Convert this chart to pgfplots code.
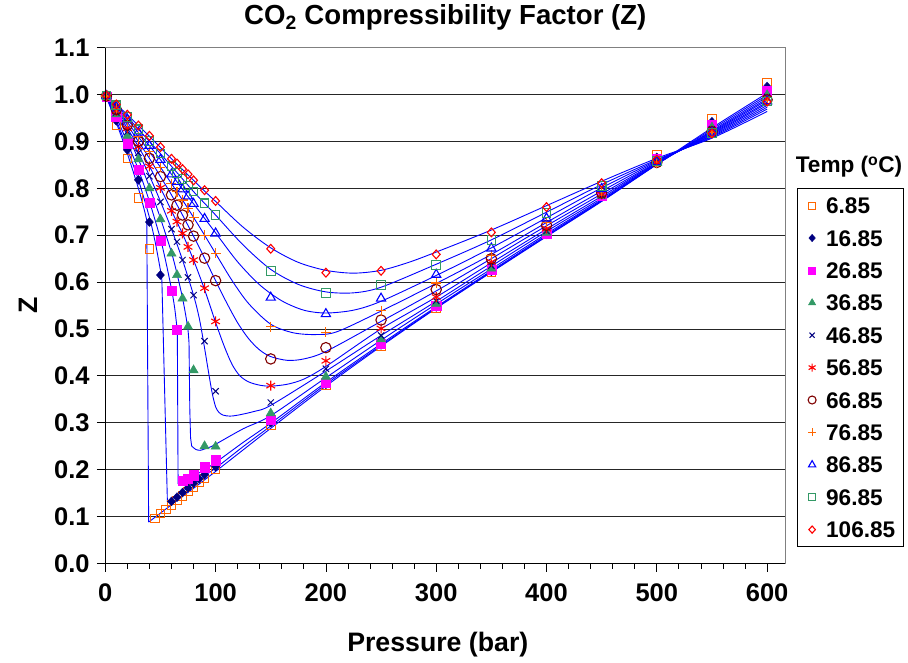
\documentclass[border=0pt]{standalone}
\usepackage{fontspec}
\setmainfont{Liberation Sans}
\usepackage{pgfplots}
\pgfplotsset{compat=1.18}
\usetikzlibrary{plotmarks}
\definecolor{cOrange}{RGB}{255,102,0}
\definecolor{cNavy}{RGB}{0,0,128}
\definecolor{cMag}{RGB}{255,0,255}
\definecolor{cSea}{RGB}{51,153,102}
\definecolor{cRed}{RGB}{255,0,0}
\definecolor{cDark}{RGB}{128,0,0}
\definecolor{cBlue}{RGB}{0,0,255}
\newcommand{\fT}{\fontsize{27.6}{33}\selectfont\bfseries}
\newcommand{\fA}{\fontsize{26.7}{32}\selectfont\bfseries}
\newcommand{\fK}{\fontsize{25.5}{30}\selectfont\bfseries}
\newcommand{\fL}{\fontsize{22.6}{27}\selectfont\bfseries}
\pgfplotsset{
  curve/.style={cBlue, line width=0.9pt, forget plot},
  sm/.style={curve, smooth, tension=0.5},
  mk/.style={only marks,
    legend image code/.code={\path[draw=none, fill=none] (0pt,-1pt) rectangle (14pt,1pt);
      \draw[##1, /tikz/only marks, mark size=#1] plot coordinates {(7pt,0pt)};}},
}
\begin{document}
\begin{tikzpicture}[x=1pt,y=1pt]
\path[use as bounding box] (0,0) rectangle (908,662);
\begin{axis}[
  at={(105.3pt,98.7pt)}, anchor=south west,
  scale only axis, width=680pt, height=515.6pt,
  xmin=0, xmax=616.5, ymin=0, ymax=1.1,
  axis line style={draw=black!50, line width=0.8pt},
  xtick={0,100,200,300,400,500,600},
  xticklabels={0,100,200,300,400,500,600},
  minor x tick num=4,
  ytick={0,0.1,0.2,0.3,0.4,0.5,0.6,0.7,0.8,0.9,1.0,1.1},
  yticklabels={0.0,0.1,0.2,0.3,0.4,0.5,0.6,0.7,0.8,0.9,1.0,1.1},
  xtick pos=left, ytick pos=left,
  tick align=outside, major tick length=8.5pt, minor tick length=5.5pt,
  every tick/.style={black, line width=0.8pt},
  minor tick style={black, line width=0.8pt},
  ymajorgrids, major grid style={black!85, line width=0.8pt},
  /pgf/number format/assume math mode=true,
  ticklabel style={font=\fK, inner sep=0pt},
  xticklabel shift=12pt, yticklabel shift=7pt,
  title={CO\textsubscript{2} Compressibility Factor (Z)},
  title style={font=\fT, inner sep=0pt, at={(axis description cs:0.5,1.0339)}, anchor=base},
  xlabel={Pressure (bar)},
  xlabel style={font=\fA, inner sep=0pt, at={(axis description cs:0.489,-0.1701)}, anchor=base},
  ylabel={Z},
  ylabel style={font=\fA, inner sep=0pt, at={(axis description cs:-0.1004,0.5)}, anchor=base},
  legend cell align=left,
  legend style={at={(axis description cs:1.0168,0.7273)}, anchor=north west,
    draw=black, line width=0.8pt, fill=white, inner xsep=8pt, inner ysep=8.8pt,
    font=\fL, row sep=16.2pt,
    nodes={inner sep=0pt, text height=16.2pt, text depth=0pt},
    /tikz/every odd column/.style={column sep=7pt}},
  extra description/.code={\draw[black, line width=1pt] (axis description cs:0,1) -- (axis description cs:0,0) -- (axis description cs:1,0);},
]
% ---------------- model curves ----------------
% 280 K
\addplot[sm] coordinates {(0,1)(10,0.940)(20,0.874)(30,0.800)(35,0.757)(37.6,0.732)};
\addplot[curve] coordinates {(37.6,0.732)(39.3,0.088)};
\addplot[sm] coordinates {(39.3,0.088)(50,0.107)(60,0.125)(70,0.143)(80,0.160)(90,0.178)(100,0.196)(125,0.242)(150,0.288)(200,0.378)(250,0.463)(300,0.544)(350,0.621)(400,0.697)(450,0.772)(500,0.851)(550,0.929)(600,1.003)};
% 290 K
\addplot[sm] coordinates {(0,1)(10,0.945)(20,0.884)(30,0.818)(40,0.738)(45,0.688)(50,0.625)(51.3,0.603)};
\addplot[curve] coordinates {(51.3,0.603)(56.3,0.131)};
\addplot[sm] coordinates {(56.3,0.131)(60,0.137)(70,0.153)(80,0.170)(90,0.187)(100,0.203)(125,0.249)(150,0.293)(200,0.382)(250,0.465)(300,0.545)(350,0.622)(400,0.698)(450,0.773)(500,0.851)(550,0.926)(600,0.999)};
% 300 K
\addplot[sm] coordinates {(0,1)(10,0.952)(20,0.897)(30,0.840)(40,0.772)(50,0.692)(55,0.642)(60,0.585)(63,0.543)(65.3,0.495)};
\addplot[curve] coordinates {(65.3,0.495)(66.0,0.169)};
\addplot[sm] coordinates {(66,0.169)(70,0.174)(80,0.186)(90,0.200)(100,0.215)(125,0.258)(150,0.299)(200,0.386)(250,0.468)(300,0.547)(350,0.624)(400,0.700)(450,0.774)(500,0.851)(550,0.923)(600,0.995)};
% 310 K
\addplot[sm] coordinates {(0,1)(10,0.958)(20,0.913)(30,0.862)(40,0.803)(50,0.736)(60,0.663)(65,0.618)(70,0.566)(73,0.528)(75,0.497)(75.9,0.470)};
\addplot[curve] coordinates {(75.9,0.470)(76.6,0.330)(77.3,0.268)(78.3,0.250)};
\addplot[sm] coordinates {(78.3,0.250)(82,0.243)(86,0.241)(90,0.244)(95,0.248)(100,0.254)(125,0.287)(150,0.315)(200,0.396)(250,0.476)(300,0.553)(350,0.628)(400,0.703)(450,0.776)(500,0.852)(550,0.921)(600,0.991)};
% 320 K
\addplot[sm] coordinates {(0,1)(10,0.962)(20,0.921)(30,0.876)(40,0.827)(50,0.772)(60,0.713)(70,0.647)(80,0.572)(85,0.525)(88,0.487)(91,0.445)(94,0.402)(97,0.362)(100,0.334)(103,0.322)(107,0.316)(113,0.314)(120,0.316)(135,0.324)(150,0.337)(200,0.410)(250,0.486)(300,0.559)(350,0.634)(400,0.708)(450,0.779)(500,0.853)(550,0.919)(600,0.988)};
% 330 K
\addplot[sm] coordinates {(0,1)(10,0.965)(20,0.928)(30,0.889)(40,0.847)(50,0.801)(60,0.752)(70,0.703)(80,0.647)(90,0.584)(100,0.514)(108,0.462)(115,0.424)(122,0.400)(130,0.387)(140,0.380)(150,0.378)(165,0.382)(180,0.393)(200,0.420)(250,0.500)(300,0.568)(350,0.641)(400,0.713)(450,0.783)(500,0.854)(550,0.917)(600,0.984)};
% 340 K
\addplot[sm] coordinates {(0,1)(10,0.968)(20,0.935)(30,0.900)(40,0.864)(50,0.825)(60,0.786)(70,0.743)(80,0.698)(90,0.651)(100,0.603)(110,0.556)(120,0.513)(130,0.479)(140,0.455)(150,0.441)(165,0.433)(180,0.436)(200,0.452)(250,0.516)(300,0.581)(350,0.650)(400,0.720)(450,0.788)(500,0.855)(550,0.915)(600,0.981)};
% 350 K
\addplot[sm] coordinates {(0,1)(10,0.971)(20,0.941)(30,0.910)(40,0.878)(50,0.845)(60,0.810)(70,0.775)(80,0.738)(90,0.700)(100,0.661)(115,0.603)(130,0.554)(150,0.510)(170,0.492)(190,0.488)(210,0.494)(250,0.538)(300,0.597)(350,0.659)(400,0.727)(450,0.794)(500,0.857)(550,0.913)(600,0.977)};
% 360 K
\addplot[sm] coordinates {(0,1)(10,0.974)(20,0.947)(30,0.919)(40,0.891)(50,0.861)(60,0.830)(70,0.798)(80,0.767)(90,0.736)(100,0.705)(120,0.643)(140,0.594)(160,0.560)(180,0.540)(200,0.534)(225,0.540)(250,0.559)(300,0.614)(350,0.673)(400,0.737)(450,0.801)(500,0.859)(550,0.911)(600,0.973)};
% 370 K
\addplot[sm] coordinates {(0,1)(10,0.977)(20,0.952)(30,0.926)(40,0.900)(50,0.874)(60,0.847)(70,0.820)(80,0.793)(90,0.768)(100,0.743)(125,0.679)(150,0.627)(175,0.595)(200,0.579)(225,0.577)(250,0.589)(300,0.638)(350,0.690)(400,0.749)(450,0.808)(500,0.861)(550,0.909)(600,0.969)};
% 380 K
\addplot[sm] coordinates {(0,1)(10,0.979)(20,0.957)(30,0.934)(40,0.911)(50,0.887)(60,0.863)(70,0.840)(80,0.817)(90,0.794)(100,0.772)(125,0.717)(150,0.673)(175,0.642)(200,0.625)(225,0.619)(250,0.625)(275,0.642)(300,0.664)(350,0.711)(400,0.763)(450,0.815)(500,0.864)(550,0.907)(600,0.964)};
% ---------------- data markers ----------------
\addplot[mk=3.4pt, mark=square, mark size=4.3pt, color=cOrange, mark options={line width=1pt}] coordinates {(1,0.994)(10,0.935)(20,0.864)(30,0.779)(40,0.670)(45,0.096)(50,0.106)(55,0.115)(60,0.125)(65,0.134)(70,0.144)(75,0.153)(80,0.162)(85,0.172)(90,0.181)(100,0.200)(150,0.295)(200,0.379)(250,0.464)(300,0.545)(350,0.622)(400,0.703)(450,0.790)(500,0.871)(550,0.949)(600,1.025)};
\addlegendentry{6.85}
\addplot[mk=3.6pt, mark=diamond*, mark size=4.4pt, color=cNavy, mark options={xscale=1.2, line width=0.5pt}] coordinates {(1,0.995)(10,0.944)(20,0.882)(30,0.818)(40,0.728)(50,0.615)(60,0.132)(65,0.141)(70,0.151)(75,0.161)(80,0.171)(85,0.180)(90,0.189)(100,0.206)(150,0.300)(200,0.382)(250,0.466)(300,0.547)(350,0.623)(400,0.702)(450,0.786)(500,0.866)(550,0.942)(600,1.017)};
\addlegendentry{16.85}
\addplot[mk=3.6pt, mark=square*, mark size=4.6pt, color=cMag, mark options={line width=0.5pt}] coordinates {(1,0.996)(10,0.952)(20,0.896)(30,0.839)(40,0.769)(50,0.688)(60,0.582)(65,0.498)(70,0.176)(75,0.181)(80,0.188)(90,0.205)(100,0.220)(150,0.306)(200,0.386)(250,0.469)(300,0.549)(350,0.626)(400,0.703)(450,0.784)(500,0.862)(550,0.935)(600,1.007)};
\addlegendentry{26.85}
\addplot[mk=4.2pt, mark=triangle*, mark size=5.3pt, color=cSea, mark options={line width=0.5pt}] coordinates {(1,0.996)(10,0.958)(20,0.912)(30,0.862)(40,0.800)(50,0.734)(60,0.661)(65,0.615)(70,0.565)(75,0.505)(80,0.412)(90,0.250)(100,0.249)(150,0.320)(200,0.398)(250,0.478)(300,0.554)(350,0.629)(400,0.705)(450,0.784)(500,0.859)(550,0.930)(600,0.999)};
\addlegendentry{36.85}
\addplot[mk=3.6pt, mark=x, mark size=4.4pt, color=cNavy, mark options={line width=1pt}] coordinates {(1,0.996)(10,0.962)(20,0.921)(30,0.876)(40,0.826)(50,0.771)(60,0.713)(65,0.686)(70,0.647)(75,0.610)(80,0.572)(90,0.474)(100,0.367)(150,0.343)(200,0.415)(250,0.486)(300,0.560)(350,0.635)(400,0.709)(450,0.785)(500,0.857)(550,0.926)(600,0.995)};
\addlegendentry{46.85}
\addplot[mk=4pt, mark=asterisk, mark size=5pt, color=cRed, mark options={line width=1.1pt}] coordinates {(1,0.996)(10,0.965)(20,0.928)(30,0.889)(40,0.847)(50,0.801)(60,0.752)(65,0.729)(70,0.704)(75,0.675)(80,0.647)(90,0.587)(100,0.516)(150,0.379)(200,0.432)(250,0.501)(300,0.568)(350,0.643)(400,0.714)(450,0.787)(500,0.856)(550,0.923)(600,0.991)};
\addlegendentry{56.85}
\addplot[mk=4pt, mark=o, mark size=5.2pt, color=cDark, mark options={line width=1.1pt}] coordinates {(1,0.997)(10,0.968)(20,0.935)(30,0.900)(40,0.864)(50,0.825)(60,0.786)(65,0.764)(70,0.743)(75,0.722)(80,0.698)(90,0.651)(100,0.603)(150,0.436)(200,0.460)(250,0.519)(300,0.584)(350,0.650)(400,0.721)(450,0.790)(500,0.855)(550,0.921)(600,0.989)};
\addlegendentry{66.85}
\addplot[mk=4pt, mark=+, mark size=5pt, color=cOrange, mark options={line width=1.1pt}] coordinates {(1,0.997)(10,0.971)(20,0.941)(30,0.910)(40,0.878)(50,0.845)(60,0.810)(65,0.793)(70,0.775)(75,0.757)(80,0.738)(90,0.700)(100,0.661)(150,0.505)(200,0.493)(250,0.539)(300,0.598)(350,0.657)(400,0.728)(450,0.794)(500,0.855)(550,0.920)(600,0.987)};
\addlegendentry{76.85}
\addplot[mk=4.2pt, mark=triangle, mark size=5.3pt, color=cBlue, mark options={line width=1.1pt}] coordinates {(1,0.997)(10,0.974)(20,0.947)(30,0.919)(40,0.891)(50,0.861)(60,0.830)(65,0.814)(70,0.798)(75,0.783)(80,0.767)(90,0.735)(100,0.704)(150,0.567)(200,0.532)(250,0.565)(300,0.616)(350,0.672)(400,0.736)(450,0.799)(500,0.856)(550,0.919)(600,0.986)};
\addlegendentry{86.85}
\addplot[mk=3.4pt, mark=square, mark size=4.3pt, color=cSea, mark options={line width=1.1pt}] coordinates {(1,0.998)(10,0.977)(20,0.952)(30,0.926)(40,0.901)(50,0.874)(60,0.847)(65,0.833)(70,0.820)(75,0.806)(80,0.793)(90,0.768)(100,0.743)(150,0.624)(200,0.577)(250,0.594)(300,0.636)(350,0.690)(400,0.747)(450,0.805)(500,0.858)(550,0.918)(600,0.985)};
\addlegendentry{96.85}
\addplot[mk=3.6pt, mark=diamond, mark size=4.4pt, color=cRed, mark options={xscale=1.2, line width=1.1pt}] coordinates {(1,0.998)(10,0.979)(20,0.957)(30,0.934)(40,0.912)(50,0.888)(60,0.863)(65,0.853)(70,0.841)(75,0.830)(80,0.817)(90,0.796)(100,0.773)(150,0.671)(200,0.620)(250,0.624)(300,0.659)(350,0.706)(400,0.760)(450,0.811)(500,0.861)(550,0.917)(600,0.985)};
\addlegendentry{106.85}
\end{axis}
\node[font=\fL, anchor=base, inner sep=0pt] at (849,489) {Temp (\textsuperscript{o}C)};
\end{tikzpicture}
\end{document}
